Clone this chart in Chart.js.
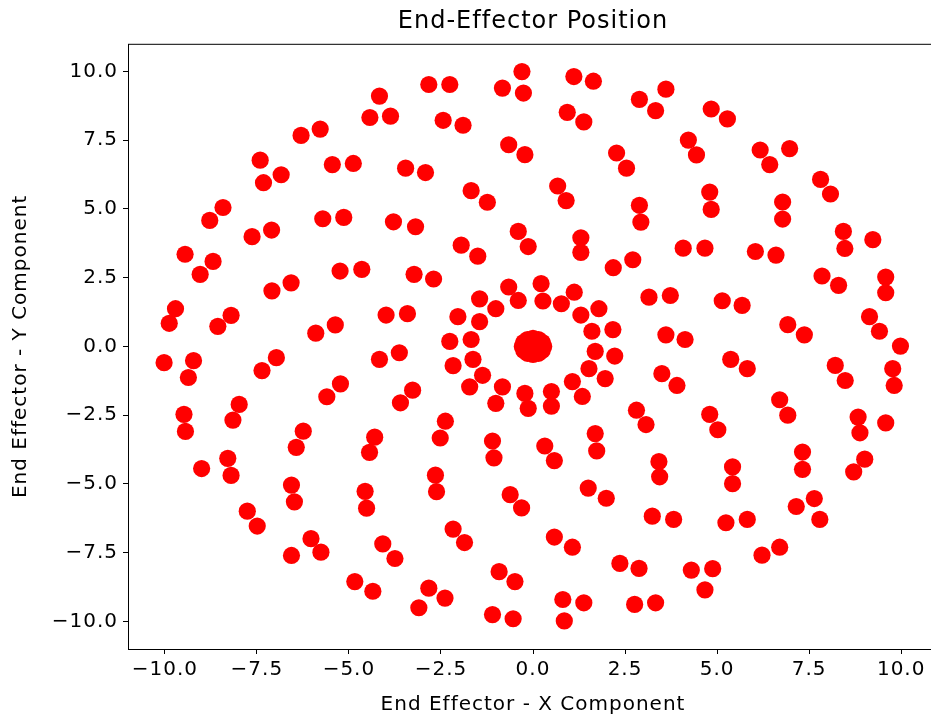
<!DOCTYPE html>
<html>
<head>
<meta charset="utf-8">
<script src="https://cdn.jsdelivr.net/npm/chart.js@4/dist/chart.umd.min.js"></script>
<style>
  html, body { margin: 0; padding: 0; background: #fff; overflow: hidden; }
  #wrap { width: 950px; height: 721px; }
</style>
</head>
<body>
<div id="wrap"><canvas id="chart" width="950" height="721"></canvas></div>
<script>
// titik posisi end-effector
const xs = [
  -4.17, -4.43, -3.87, -6.30, -5.78, -7.41, -6.84, -7.32, -5.45, -4.88,
  -8.42, -8.78, -7.63, -7.10, -5.71, -5.14, -3.79, -9.45, -8.69, -9.04,
  -7.09, -6.57, -5.24, -4.65, -9.71, -9.88, -8.20, -8.56, -5.90, -5.37,
  -3.99, -10.02, -9.22, -9.36, -7.36, -6.97, -4.17, -5.60, -5.23, -9.48,
  -9.44, -7.98, -8.15, -6.24, -6.43, -4.30, -4.44, -9.00, -8.29, -8.20,
  -6.56, -6.48, -4.56, -4.52, -7.76, -7.49, -6.03, -5.76, -6.56, -4.08,
  -3.75, -4.84, -4.35,
  -2.83, -2.26, -0.83, -0.30, -0.26, 1.11, 1.64, 2.89, 3.33, 3.61,
  -2.44, -1.90, 0.93, 1.38, -0.66, -0.22, -3.46, -2.92, 2.27, 2.54,
  -1.68, -1.24, 0.67, 0.90, 2.89, 2.93, -3.19, -1.95, -1.50, -0.40,
  -0.13, 1.30, 1.30, 2.18, 2.71, -3.23, -2.70, -3.41, -0.66, -0.40,
  0.22, 0.27, 0.77, 1.12, -1.45, -1.01, -2.04, -1.45, 1.30, 1.79,
  1.60, 2.17, -2.26, -1.68, -3.63, 1.69, 2.22, -2.17, -1.63, 1.52,
  1.96, -1.37, -1.72, -0.83, -1.01, -0.22, -0.13, 0.50, 0.50, 1.07,
  1.34, -3.60, -3.27, -2.38, -2.52, -1.10, 0.32, 1.69, 1.73, 2.81,
  3.07, 3.15, -1.06, 0.58, 3.42, 3.44, -2.65, -2.62, -0.62, -0.31,
  1.50, 1.99, 3.24, -2.17, -1.86, 0.58, 1.07, 2.36, 2.88, -0.92,
  -0.49, -2.83, -2.39, -3.10, -1.10, -0.54, 0.81, 1.38, 0.85, 2.76,
  3.33,
  4.84, 5.28, 4.22, 4.44, 6.17, 6.43, 6.97, 4.80, 4.84, 6.78,
  6.78, 7.81, 8.08, 8.43, 8.47, 9.23, 4.08, 4.67, 6.04, 6.60,
  7.85, 8.30, 9.58, 9.58, 3.73, 5.14, 5.68, 9.14, 9.41, 9.98,
  6.92, 7.37, 3.61, 4.13, 5.37, 5.82, 3.50, 3.91, 8.21, 8.48,
  9.77, 9.81, 6.70, 6.92, 4.80, 5.02, 8.83, 8.88, 9.58, 5.42,
  5.42, 7.32, 7.32, 8.71, 9.01, 3.82, 5.24, 5.82, 7.15, 7.64,
  7.79, 6.22, 6.70, 4.30, 4.88, 4.67,
  0.29, 0.25, 0.15, 0.00, -0.15, -0.25, -0.29, -0.25, -0.15, 0.00, 0.15, 0.25
];
const ys = [
  9.10, 8.32, 8.37, 7.67, 7.90, 6.77, 6.24, 5.95, 6.61, 6.65,
  5.05, 4.58, 3.99, 4.23, 4.64, 4.69, 4.53, 3.35, 3.09, 2.62,
  2.02, 2.31, 2.74, 2.80, 1.37, 0.84, 1.13, 0.73, 0.48, 0.78,
  1.14, -0.59, -0.52, -1.13, -0.88, -0.41, -0.47, -1.83, -1.36, -2.47,
  -3.09, -2.11, -2.68, -3.08, -3.67, -3.30, -3.85, -4.44, -4.07, -4.69,
  -5.04, -5.65, -5.27, -5.88, -5.99, -6.53, -6.99, -7.48, -7.60, -7.18,
  -7.71, -8.55, -8.90,
  9.52, 9.52, 9.39, 9.99, 9.21, 9.81, 9.64, 8.98, 8.57, 9.35,
  8.22, 8.04, 8.51, 8.16, 7.33, 6.97, 6.48, 6.32, 7.03, 6.48,
  5.66, 5.24, 5.83, 5.30, 5.13, 4.52, 4.35, 3.68, 3.28, 4.18,
  3.63, 3.95, 3.42, 2.86, 3.15, 2.62, 2.45, 1.19, 2.16, 1.67,
  2.28, 1.65, 1.55, 1.97, 1.73, 1.37, 1.08, 0.90, 1.14, 1.37,
  0.55, 0.61, 0.18, 0.25, -0.23, -0.18, -0.35, -0.70, -0.47, -0.81,
  -1.17, -1.05, -1.47, -1.47, -2.07, -1.71, -2.25, -1.64, -2.17, -1.28,
  -1.82, -2.05, -1.59, -2.72, -3.33, -3.44, -3.62, -3.17, -3.80, -2.32,
  -2.84, 1.79, -4.05, -4.15, -4.19, -4.74, -4.68, -5.28, -5.39, -5.87,
  -5.15, -5.52, -6.17, -6.64, -7.13, -6.93, -7.30, -7.89, -8.07, -8.19,
  -8.55, -8.79, -9.15, -9.50, -9.75, -9.90, -9.20, -9.32, -9.98, -9.38,
  -9.32,
  8.63, 8.27, 7.50, 6.96, 7.14, 6.61, 7.19, 5.61, 4.98, 5.25,
  4.63, 6.07, 5.54, 4.18, 3.56, 3.88, 3.57, 3.57, 3.45, 3.32,
  2.56, 2.22, 2.52, 1.95, 1.85, 1.66, 1.49, 1.08, 0.55, 0.01,
  0.79, 0.42, 0.42, 0.25, -0.47, -0.81, -0.99, -1.42, -0.69, -1.24,
  -0.81, -1.42, -1.94, -2.50, -2.47, -3.03, -2.57, -3.14, -2.78, -4.38,
  -4.99, -3.84, -4.47, -4.56, -4.10, -6.29, -6.41, -6.29, -5.82, -5.53,
  -6.29, -7.59, -7.30, -8.13, -8.08, -8.85,
  0.00, 0.15, 0.25, 0.29, 0.25, 0.15, 0.00, -0.15, -0.25, -0.29, -0.25, -0.15
];
const tickValues = [-10, -7.5, -5, -2.5, 0, 2.5, 5, 7.5, 10];

const FONT = "'DejaVu Sans', sans-serif";
Chart.defaults.color = '#000';
Chart.defaults.font.family = FONT;

const points = xs.map((x, i) => ({ x: x, y: ys[i] }));

function fmtTick(v) {
  return (v < 0 ? '\u2212' : '') + Math.abs(v).toFixed(1);
}

// bingkai kotak seperti matplotlib
const framePlugin = {
  id: 'frame',
  beforeDraw(chart) {
    chart.ctx.letterSpacing = '1px';
  },
  afterDraw(chart) {
    const a = chart.chartArea;
    const ctx = chart.ctx;
    ctx.save();
    ctx.strokeStyle = '#000';
    ctx.lineWidth = 1;
    ctx.strokeRect(a.left + 0.5, a.top + 0.5, a.right - a.left, a.bottom - a.top);
    ctx.restore();
  }
};

const axisCommon = {
  type: 'linear',
  min: -11,
  max: 11,
  afterBuildTicks: s => { s.ticks = tickValues.map(v => ({ value: v })); },
  grid: { drawOnChartArea: false, drawTicks: true, tickLength: 5, color: '#000', lineWidth: 1 },
  border: { display: false }
};

new Chart(document.getElementById('chart').getContext('2d'), {
  type: 'scatter',
  data: {
    datasets: [{
      label: 'End Effector',
      data: points,
      backgroundColor: '#ff0000',
      borderWidth: 0,
      pointRadius: 8.6,
      pointHoverRadius: 8.6
    }]
  },
  options: {
    responsive: false,
    animation: false,
    layout: { padding: { left: 0, right: 12, top: 0, bottom: 0 } },
    plugins: {
      legend: { display: false },
      tooltip: { enabled: false },
      title: {
        display: true,
        text: 'End-Effector Position',
        fullSize: false,
        font: { family: FONT, size: 24, weight: 'normal' },
        padding: { top: 7, bottom: 8 },
        color: '#000'
      }
    },
    scales: {
      x: {
        ...axisCommon,
        ticks: { callback: fmtTick, font: { family: FONT, size: 20 }, padding: 4, maxRotation: 0, autoSkip: false },
        title: { display: true, text: 'End Effector - X Component', font: { family: FONT, size: 20 }, padding: { top: 0, bottom: 4 } },
        afterFit: s => { s.height = 72; }
      },
      y: {
        ...axisCommon,
        ticks: { callback: fmtTick, font: { family: FONT, size: 20 }, padding: 5, autoSkip: false },
        title: { display: true, text: 'End Effector - Y Component', font: { family: FONT, size: 20 }, padding: { top: 9, bottom: 0 } },
        afterFit: s => { s.width = 128; }
      }
    }
  },
  plugins: [framePlugin]
});
</script>
</body>
</html>
